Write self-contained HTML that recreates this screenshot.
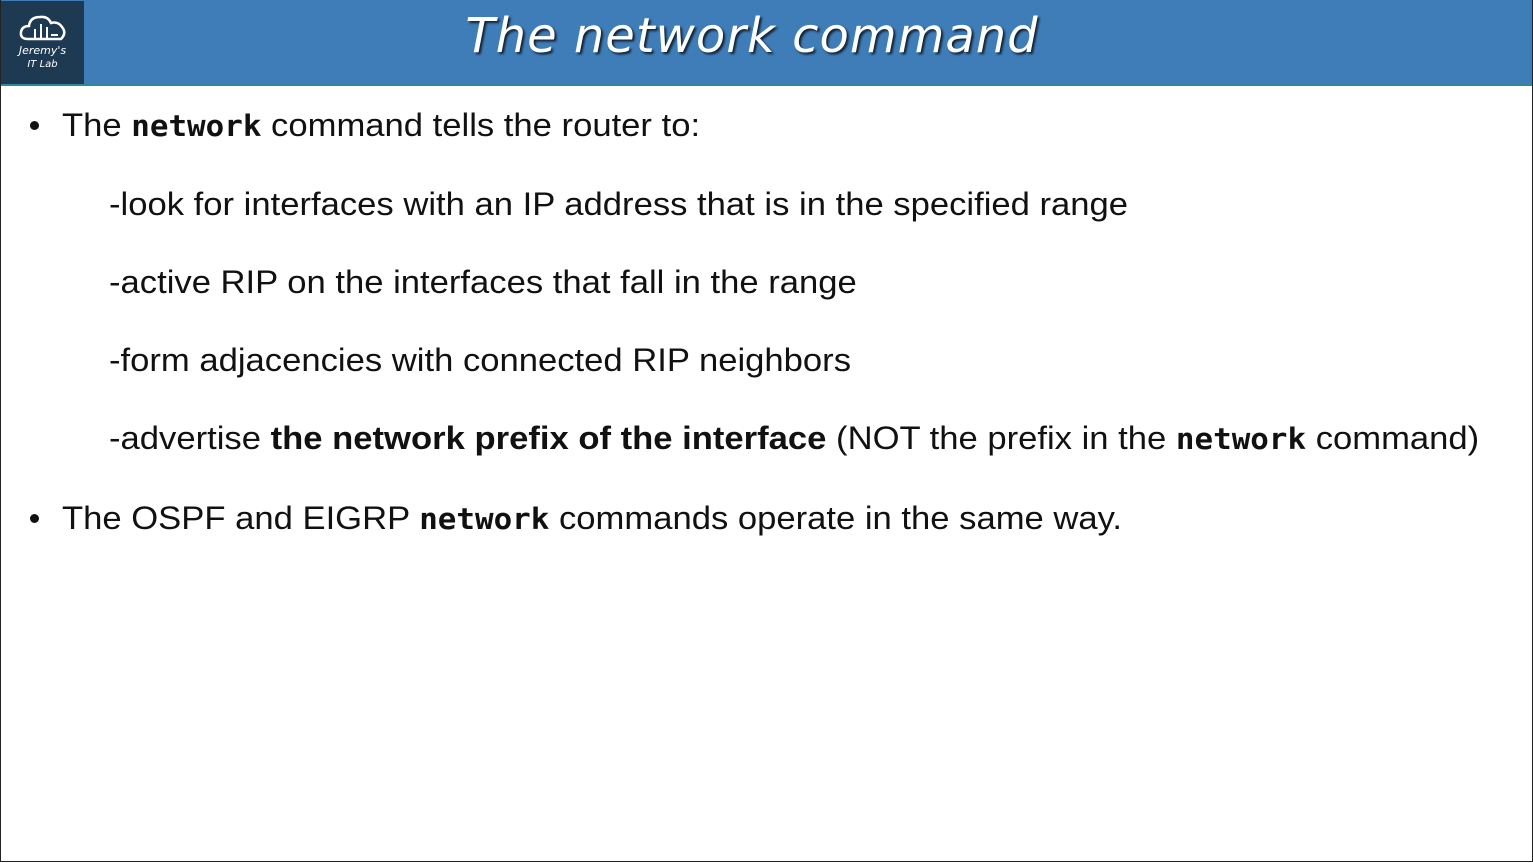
<!DOCTYPE html>
<html><head><style>
html,body{margin:0;padding:0;}
body{width:1533px;height:863px;position:relative;background:#fff;overflow:hidden;font-family:"Liberation Sans",sans-serif;}
.frame{position:absolute;left:0;top:0;width:1531px;height:861px;border:1px solid #222;border-top:none;}
.hdr{position:absolute;left:0;top:0;width:1533px;height:84px;background:#3f7db8;border-bottom:2px solid #2a8a9a;}
.logo{position:absolute;left:1px;top:1px;width:83px;height:83px;background:#1d3a52;color:#fff;text-align:center;font-family:"DejaVu Sans",sans-serif;font-size:10px;}
.title{position:absolute;left:400px;width:704px;top:8px;text-align:center;color:#fff;font-family:"DejaVu Sans",sans-serif;font-style:italic;font-size:48px;letter-spacing:1px;text-shadow:2px 2px 2px #123;}
.t{position:absolute;font-size:32.5px;color:#111;white-space:nowrap;line-height:1;transform:scaleX(1.065);transform-origin:0 0;}
.m{font-family:"DejaVu Sans Mono","Liberation Mono",monospace;font-weight:bold;font-size:29px;}
.dot{position:absolute;width:9px;height:9px;border-radius:50%;background:#111;}
</style></head><body>
<div class="hdr"></div>
<div class="logo">
<svg width="50" height="30" viewBox="0 0 50 30" style="margin-top:12px"><path d="M10 26 Q2 26 3 19 Q4 13 11 13 Q12 4 22 4 Q30 3 33 10 Q40 8 44 14 Q49 20 43 26 Z" fill="none" stroke="#fff" stroke-width="2.5"/><path d="M17 26V16M23 26V11M29 26V14M33 22H40" stroke="#fff" stroke-width="2"/></svg>
<div style="margin-top:-2px;font-style:italic;font-size:11px">Jeremy's</div>
<div style="font-style:italic;font-size:10px;margin-top:2px">IT Lab</div>
</div>
<div class="title">The network command</div>
<div class="dot" style="left:30px;top:121px"></div>
<div class="t" style="left:62px;top:109px">The <span class="m">network</span> command tells the router to:</div>
<div class="t" style="left:109px;top:188px">-look for interfaces with an IP address that is in the specified range</div>
<div class="t" style="left:109px;top:266px">-active RIP on the interfaces that fall in the range</div>
<div class="t" style="left:109px;top:344px">-form adjacencies with connected RIP neighbors</div>
<div class="t" style="left:109px;top:422px">-advertise <b>the network prefix of the interface</b> (NOT the prefix in the <span class="m">network</span> command)</div>
<div class="dot" style="left:30px;top:514px"></div>
<div class="t" style="left:62px;top:502px">The OSPF and EIGRP <span class="m">network</span> commands operate in the same way.</div>
<div class="frame"></div>
</body></html>
